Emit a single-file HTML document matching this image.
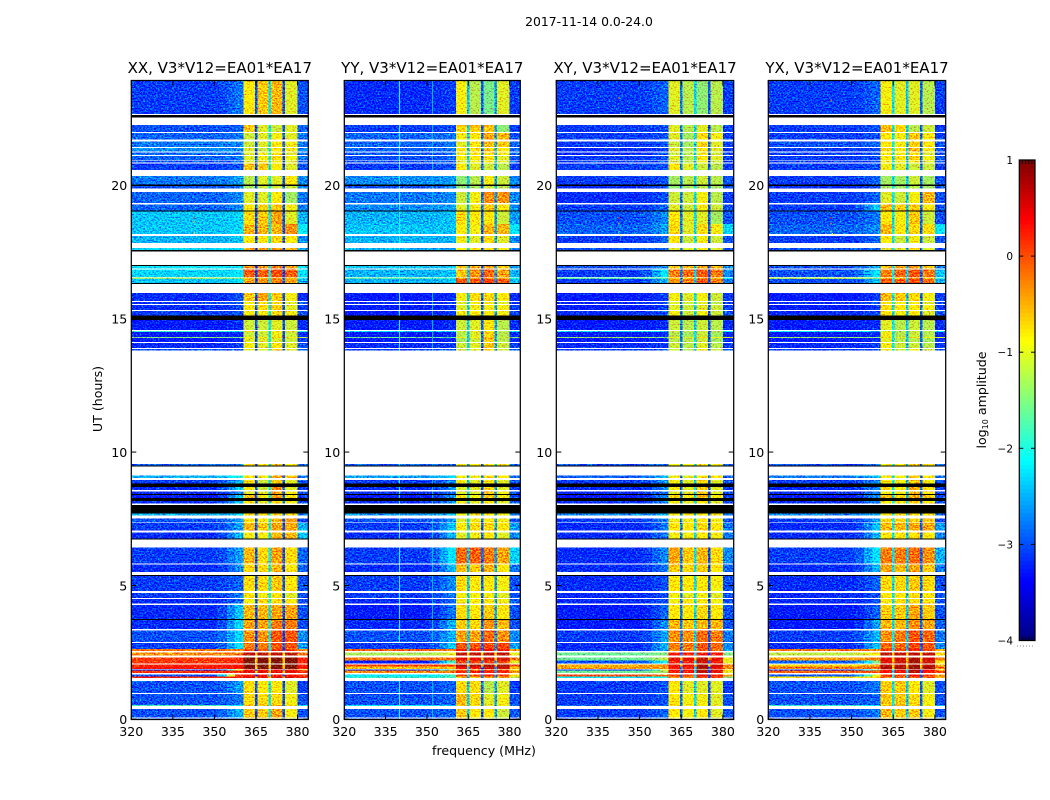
<!DOCTYPE html>
<html>
<head>
<meta charset="utf-8">
<title>2017-11-14 0.0-24.0</title>
<style>
html,body{margin:0;padding:0;background:#fff;}
svg{display:block;}
text{font-family:"DejaVu Sans","Liberation Sans",sans-serif;fill:#000;}
</style>
</head>
<body>
<svg id="fig" xmlns="http://www.w3.org/2000/svg" width="1050" height="800" viewBox="0 0 1050 800">
<defs>
<filter id="speckle" x="0" y="0" width="100%" height="100%" color-interpolation-filters="sRGB">
<feTurbulence type="fractalNoise" baseFrequency="0.55 0.7" numOctaves="2" seed="7" result="t"/>
<feColorMatrix in="t" type="matrix" values="0 0 0 0 0.5 1 0 0 0 0 0 0 0 0 0.5 0 0 0 0 1" result="g"/>
<feComposite in="g" in2="SourceGraphic" operator="arithmetic" k1="0" k2="1.8" k3="1" k4="-0.9" result="m"/>
<feComposite in="m" in2="SourceAlpha" operator="in"/>
</filter>
</defs>
<text x="589" y="26" font-size="12.4" text-anchor="middle">2017-11-14 0.0-24.0</text>
<text x="484" y="755" font-size="12.6" text-anchor="middle">frequency (MHz)</text>
<text x="102" y="399" font-size="12.6" text-anchor="middle" transform="rotate(-90 102 399)">UT (hours)</text>
<text x="986" y="400" font-size="12.6" text-anchor="middle" transform="rotate(-90 986 400)">log<tspan font-size="8" dy="2">10</tspan><tspan dy="-2"> amplitude</tspan></text>
<g id="panels"></g>
<g id="cbar"></g>
</svg>
<script>
var polNames = ['XX', 'YY', 'XY', 'YX'];
var panelTitle = ', V3*V12=EA01*EA17';
var xTicks = [320, 335, 350, 365, 380];
var yTicks = [0, 5, 10, 15, 20];
var cbarTicks = [1, 0, -1, -2, -3, -4];

// Frequency column edges (MHz): low, three ramp steps, sub-band 1, notch, 2, notch, 3, notch, 4, high
var freqEdges = [320, 351, 354.5, 357.5, 360.5, 364.6, 365.5, 369.6, 370.5, 374.6, 375.5, 380, 383.9];

// Flagged (black) time ranges in UT hours
var blackRows = [[22.62,22.53],[20.02,19.96],[19.04,19.01],[17.57,17.51],[17.0,16.97],[16.33,16.29],[15.11,14.94],[9.49,9.46],[8.83,8.70],[8.43,8.39],[8.28,8.16],[8.01,7.70],[6.76,6.72],[5.39,5.36],[3.75,3.71]];

// Scan rows in UT hours (top, bottom)
var scanRows = [[23.90,22.66],[22.25,21.99],[21.95,21.70],[21.63,21.42],[21.39,21.25],[21.22,21.12],[21.09,20.95],[20.92,20.84],[20.81,20.56],[20.34,20.02],[19.96,19.87],[19.74,19.33],[19.27,19.04],[19.01,18.55],[18.55,18.16],[18.09,17.83],[17.64,17.57],[16.97,16.87],[16.84,16.55],[16.53,16.48],[16.48,16.33],[15.96,15.66],[15.62,15.54],[15.51,15.32],[15.28,15.11],[14.94,14.57],[14.53,14.50],[14.50,14.31],[14.31,14.27],[14.27,14.12],[14.08,13.90],[13.86,13.80],[9.55,9.49],[9.13,9.03],[8.95,8.83],[8.70,8.58],[8.53,8.43],[8.39,8.28],[8.16,8.07],[7.70,7.62],[7.51,7.36],[7.34,7.06],[6.98,6.76],[6.42,5.82],[5.79,5.51],[5.36,4.79],[4.72,4.53],[4.49,4.33],[4.28,3.75],[3.71,3.37],[3.32,2.88],[2.85,2.62],[2.62,2.55],[2.49,2.37],[2.31,2.19],[2.19,2.08],[2.04,1.96],[1.96,1.87],[1.86,1.81],[1.81,1.72],[1.66,1.59],[1.59,1.54],[1.43,0.97],[0.94,0.52],[0.52,0.49],[0.37,0.06],[0.02,0.0]];

// log10 amplitude per scan row: low, ramp, band1, band2, band3, band4, high
var ampXX = [
[-3.1,-2.8,-.7,-.5,-.4,-.9,-3],[-3,-2.9,-.5,-.9,-1,-.9,-2.9],[-2.9,-2.8,-1,-.9,-.8,-.9,-2.8],[-2.8,-2.7,-1,-.9,-.7,-.8,-2.8],[-2.7,-2.7,-.9,-1,-.7,-.8,-2.7],[-2.9,-2.8,-.9,-.8,-.7,-.9,-2.8],[-2.9,-2.8,-.9,-.8,-.6,-.8,-2.8],[-3,-2.9,-.9,-.8,-.7,-.9,-2.9],[-3.1,-3,-.5,-.5,-.7,-.9,-3],
[-2.8,-2.6,-1.1,-.9,-.9,-.7,-2.7],[-3,-2.8,-1.2,-1,-1,-1,-2.8],[-2.9,-2.7,-.9,-.9,-.7,-1.2,-2.8],[-2.9,-2.7,-.7,-.6,-.5,-.8,-2.8],[-2.4,-2.3,-.6,-.5,-.3,-.9,-2.5],[-2.4,-2.3,-.4,-.4,-.4,-.2,-2.1],[-2.5,-2.4,-.7,-.7,-.6,-.7,-2.7],[-2.3,-2.3,-.3,-.3,-.2,-.4,-2.5],
[-2.2,-2.2,-.2,-.2,-.1,-.3,-2.2],[-2.3,-2.2,.05,.05,.15,.05,-2.2],[-1.4,-1.6,-.4,-.4,-.3,-.4,-2],[-2.4,-2.2,-.3,-.2,-.1,-.3,-2.5],
[-3.2,-3,-.5,-.3,-.5,-.8,-3.2],[-3.1,-3,-.8,-.7,-.6,-.9,-3],[-3.2,-3,-.7,-.6,-.5,-.9,-3.1],[-3.1,-3,-.8,-.8,-.6,-.8,-3],
[-3.3,-3.2,-1,-1,-.9,-1,-3.2],[-1.9,-2.3,-.8,-.9,-.8,-.9,-2],[-3.3,-3.2,-1,-1,-.8,-1,-3.2],[-1.5,-1.6,-.6,-.7,-.6,-.8,-1.3],[-3.3,-3.2,-.9,-.9,-.9,-1,-3.1],[-3.2,-3.1,-.8,-.9,-.7,-.9,-3],[-3,-2.9,-.9,-.9,-.6,-.9,-3],
[-2.9,-2.8,-.6,-.7,-.5,-.7,-2.8],[-2.5,-2,-.7,-.8,-.3,-.5,-2.8],[-3.1,-2.5,-.6,-1,-.5,-.9,-3],[-3.2,-2.4,-.7,-1,-.2,-.9,-3.1],[-3.2,-2.7,-.9,-.9,-.3,-.8,-3],[-3.3,-2.4,-.4,-.8,-.3,-.7,-3.1],[-3.2,-2.4,-.7,-.9,-.6,-.8,-3],[-2.5,-2.3,-.7,-.6,-.6,-.6,-2.7],
[-3,-2.6,-.7,-.7,-.4,-.3,-3],[-3.1,-2.6,-.4,-.5,-.3,-.3,-2.5],[-3.2,-2.5,-.8,-.8,-.4,-.4,-2.4],[-3.1,-2.6,-.4,-.6,-.3,-.6,-2.9],[-3.2,-2.7,-.6,-.6,-.4,-.7,-2.9],
[-3.1,-2.9,-.6,-.6,-.5,-.7,-3],[-3.1,-2.8,-.7,-.8,-.7,-.9,-3],[-3.2,-2.9,-.8,-.6,-.6,-.7,-3],[-3.2,-2.4,-.4,-.4,-.3,-.3,-3],[-3.2,-2.3,-.3,-.3,-.1,-.1,-3],[-3,-2.3,-.2,-.2,.1,.1,-2.7],[-3.1,-2.2,-.1,-.1,.1,.1,-2.6],[-.2,-.2,.1,.1,.2,.2,-.4],
[-.3,-.2,.7,.7,.7,.7,-.2],[.1,.2,1,1,1,1,.2],[.15,.25,1,1,1,1,.25],[.25,.35,1,1,1,1,.35],[.35,.4,1,1,1,1,.35],[-3.2,-1,.3,.3,.3,.3,-.5],[.2,.2,.5,.5,.5,.5,.2],[-3,.2,.3,.3,.3,.3,.2],[.3,.2,.5,.5,.5,.5,.2],
[-3,-2.6,-.6,-.7,-.7,-.9,-3.1],[-3,-2.8,-.6,-.6,-.6,-.8,-3],[-1.8,-2.2,-.4,-.4,-.3,-.5,-2.2],[-3,-2.5,-.5,-.5,-.3,-.8,-3],[-3,-2.7,-.7,-.7,-.6,-.9,-3]];

var ampYY = [
[-3.2,-3.1,-.8,-1.1,-1.4,-.9,-3.1],[-3.1,-3,-.6,-.5,-.5,-1.3,-3.1],[-2.9,-2.8,-.8,-.7,-.3,-.4,-3],[-2.9,-2.8,-.9,-.7,-.4,-.5,-2.9],[-2.9,-2.8,-.7,-.7,-.5,-.7,-2.9],[-3,-2.9,-.8,-.7,-.6,-.8,-2.9],[-3,-2.9,-.8,-.7,-.7,-.9,-3],[-3,-2.9,-.9,-.8,-.7,-.9,-3],[-3.1,-3,-.7,-.9,-1,-1.1,-3.1],
[-2.7,-2.6,-1.3,-1.1,-.8,-1,-2.7],[-3,-2.8,-1.3,-1.2,-1,-1.1,-2.9],[-2.8,-2.7,-1,-.8,-.2,-.2,-2.7],[-2.7,-2.6,-.9,-.8,-.5,-.7,-2.7],[-2.5,-2.4,-.6,-.7,-.7,-1,-2.6],[-2.4,-2.4,-.7,-.8,-.4,-.4,-2.2],[-2.5,-2.5,-.8,-.9,-.6,-.9,-2.7],[-2.5,-2.5,-.7,-.7,-.6,-.8,-2.8],
[-2.4,-2.4,-.5,-.4,-.2,-.5,-2.6],[-2.5,-2.4,-.5,-.2,0,-.3,-2.5],[-1.7,-1.9,-.3,-.2,-.1,-.3,-2],[-2.5,-2.4,.1,.1,.2,.1,-2.4],
[-3.3,-3.2,-.8,-.6,-.6,-.7,-3.2],[-3.2,-3.1,-.9,-.8,-.8,-.9,-3.1],[-3.3,-3.2,-.9,-.8,-.8,-.8,-3.1],[-3.3,-3.1,-.8,-.7,-.7,-.8,-3.1],
[-3.3,-3.2,-1,-.9,-.7,-1.1,-3.2],[-2.2,-2.4,-1,-.9,-.7,-1.1,-2.3],[-3.3,-3.2,-1.1,-.9,-.6,-1.1,-3.2],[-1.6,-1.7,-.8,-.7,-.4,-1,-1.5],[-3.3,-3.2,-1.2,-1,-.5,-1.1,-3.2],[-3.2,-3.1,-1,-.9,-.5,-1,-3.1],[-3.1,-3,-1,-.9,-.6,-1,-3],
[-2.9,-2.8,-.8,-.7,-.7,-.8,-2.9],[-2.6,-2.3,-.8,-.8,-.6,-.7,-2.8],[-3.1,-2.7,-.8,-.9,-.7,-.9,-3],[-3.2,-2.7,-.9,-.9,-.6,-.9,-3.1],[-3.2,-2.8,-.9,-.9,-.5,-.8,-3],[-3.3,-2.7,-.7,-.8,-.5,-.8,-3.1],[-3.2,-2.6,-.8,-.9,-.7,-.9,-3],[-2.6,-2.4,-.8,-.7,-.7,-.8,-2.8],
[-3,-2.7,-.9,-.8,-.7,-.8,-3],[-3.1,-2.4,-.7,-.6,-.6,-.7,-2.6],[-3.2,-2.5,-.9,-.8,-.7,-.9,-2.7],[-3.1,-2.2,0,.05,-.1,-.3,-2.3],[-3.2,-2.5,-.4,-.5,-.4,-.7,-2.8],
[-3.1,-2.7,-.6,-.7,-.7,-.8,-3],[-3.1,-2.8,-.8,-.8,-.8,-.9,-3],[-3.2,-2.9,-.8,-.7,-.7,-.8,-3],[-3.3,-2.8,-.6,-.7,-.5,-.7,-3],[-3.2,-2.5,-.5,-.6,-.2,-.4,-3],[-3,-2.5,-.3,-.3,0,-.2,-2.7],[-3.1,-2.4,.1,.1,.2,.2,-2.6],[-.1,-.2,.4,.3,.4,.3,-.4],
[-1.3,-1,.7,.7,.7,.7,-1],[-.2,-.2,.5,.5,.6,.6,-.2],[-3.3,-1.8,.2,.2,.2,.2,-1],[.1,.1,.8,.8,.8,.8,.1],[-.6,-.5,.4,.4,.6,.6,-.6],[-3.3,-1.5,-.2,-.2,.1,.1,-.8],[-.3,-.2,.3,.3,.3,.3,-.3],[-2.2,-1.8,.2,.1,.3,.2,-.8],[-1.9,-1.8,-.4,-.4,-.3,-.3,-1.2],
[-3,-2.9,-.6,-.6,-1.1,-.9,-3.1],[-3,-2.9,-.4,-.6,-.9,-.8,-3],[-2.2,-2.5,-.5,-.6,-.9,-.8,-2.8],[-3,-2.9,-.5,-.7,-.7,-1,-3],[-3,-2.8,-.7,-.8,-.8,-1,-3]];

var ampXY = [
[-3.1,-2.9,-.9,-1.1,-1.3,-1.1,-3.1],[-3.1,-3,-.9,-1.1,-.9,-1.1,-3.1],[-3.1,-3,-.9,-1.2,-.6,-.8,-3.1],[-3.1,-3,-1,-1.2,-.6,-.9,-3.1],[-3.2,-3.1,-.9,-1.1,-.7,-.9,-3.1],[-3.2,-3,-1,-1.1,-.8,-1,-3.1],[-3.1,-3,-.9,-1.1,-.7,-.9,-3.1],[-3.1,-3,-1,-1.1,-.8,-1,-3],[-3.1,-3,-.7,-.9,-1,-1.1,-3.1],
[-3.1,-3,-1.2,-1.1,-1,-1.1,-3],[-3.2,-3,-1.3,-1.2,-1.1,-1.2,-3],[-3.2,-3,-1,-1,-.8,-1.1,-3.1],[-3.1,-2.9,-.9,-1,-.7,-1,-3],[-3,-2.7,-.7,-.9,-.9,-1.2,-3],[-2.9,-2.6,-.6,-.9,-.6,-.8,-2.3],[-3.1,-2.9,-.7,-1,-.8,-1,-3],[-3,-2.9,-.9,-.9,-.7,-.9,-3],
[-3,-2.7,-.5,-.4,-.3,-.4,-2.7],[-3.1,-2.2,-.1,0,.1,-.1,-2.7],[-1.7,-1.8,-.4,-.4,-.2,-.4,-2.2],[-3.1,-2.5,-.2,-.1,.1,-.1,-2.8],
[-3.3,-3.1,-.8,-.9,-.8,-1,-3.1],[-3.2,-3,-.9,-1,-.9,-1.1,-3.1],[-3.3,-3.1,-.9,-1,-.9,-1,-3.1],[-3.2,-3,-.8,-1,-.8,-1,-3],
[-3.3,-3.2,-1,-1.1,-1,-1.1,-3.2],[-2.3,-2.5,-1,-1.1,-1,-1.1,-2.4],[-3.3,-3.2,-1.1,-1.2,-1,-1.2,-3.2],[-1.4,-1.5,-.8,-.9,-.6,-.8,-1.1],[-3.3,-3.2,-1.1,-1.1,-1,-1.2,-3.2],[-3.2,-3.1,-1,-1.1,-.9,-1.1,-3.1],[-3.1,-3,-1,-1.1,-.8,-1,-3],
[-3,-2.9,-.8,-.8,-.7,-.8,-2.9],[-2.9,-2.5,-.8,-.9,-.6,-.7,-2.9],[-3.1,-2.7,-.8,-.9,-.6,-.9,-3],[-3.2,-2.7,-.8,-.9,-.5,-.9,-3.1],[-3.2,-2.8,-.9,-.9,-.5,-.9,-3],[-3.3,-2.7,-.6,-.8,-.4,-.7,-3.1],[-3.2,-2.7,-.8,-.9,-.7,-.9,-3],[-2.7,-2.5,-.8,-.7,-.7,-.7,-2.8],
[-3.1,-2.8,-.8,-.8,-.7,-.8,-3],[-3.2,-2.8,-.7,-.7,-.6,-.7,-2.8],[-3.2,-2.8,-.8,-.8,-.7,-.8,-2.8],[-3.2,-2.7,-.3,-.5,-.4,-.6,-2.7],[-3.2,-2.8,-.5,-.6,-.5,-.7,-2.9],
[-3.2,-3,-.7,-.7,-.7,-.8,-3],[-3.2,-3,-.8,-.9,-.8,-.9,-3],[-3.2,-3,-.8,-.7,-.7,-.8,-3],[-3.3,-2.9,-.7,-.7,-.6,-.7,-3],[-3.3,-2.7,-.4,-.5,-.4,-.4,-3],[-3.1,-2.6,-.2,-.2,0,-.1,-2.8],[-3.2,-2.5,-.1,-.1,.1,0,-2.7],[-3.1,-2.6,-.2,-.2,.1,-.1,-2.6],
[-1.6,-1.5,.3,.3,.4,.3,-1.5],[-1.6,-1.2,.5,.5,.7,.5,-1],[-3,-2,.3,.3,.6,.4,-1],[-.5,-.3,.5,.5,.8,.6,-.2],[-.4,-.3,.4,.4,.8,.5,-.3],[-3.3,-1,.3,.3,.7,.5,-.5],[-1.6,-1.3,.3,.3,.7,.5,-1],[0,-.2,.2,.2,.5,.3,-.5],[-2.2,-2,-.2,-.2,.1,.1,-1.5],
[-3.1,-3,-.7,-.9,-.9,-.9,-3.1],[-3.1,-3,-.7,-.8,-.8,-.9,-3],[-2.9,-2.8,-.6,-.7,-.7,-.8,-2.9],[-3.1,-2.9,-.7,-.8,-.7,-.9,-3],[-3,-2.9,-.8,-.9,-.8,-1,-3]];

var ampYX = [
[-3.1,-2.9,-.8,-.9,-.9,-1.1,-3.1],[-3.1,-3,-.4,-.6,-1.1,-1,-3.1],[-3.1,-3,-.7,-.8,-.5,-.7,-3.1],[-3,-2.9,-.7,-.8,-.5,-.7,-3],[-3.1,-3,-.6,-.7,-.4,-.8,-3],[-3.1,-3,-.7,-.8,-.6,-.9,-3],[-3.1,-3,-.7,-.7,-.5,-.8,-3],[-3.1,-3,-.8,-.8,-.7,-.9,-3],[-3.1,-3,-.8,-.9,-1,-1,-3.1],
[-3.1,-2.9,-1.2,-1.2,-1,-1.2,-3],[-3.2,-3,-1.2,-1.2,-1.1,-1.2,-3],[-3.1,-2.9,-.9,-1,-.8,-.4,-3],[-3.1,-2.4,-.4,-.5,-.5,-.7,-3],[-3,-2.8,-.7,-.8,-.5,-1,-3],[-2.9,-2.7,-.4,-.7,-.6,-.6,-2.2],[-3.1,-2.9,-.7,-1,-.8,-1,-3],[-3,-2.9,-.9,-.9,-.7,-.9,-3],
[-3,-2.5,-.4,-.3,-.2,-.5,-2.7],[-3,-2.2,-.1,0,.1,-.1,-2.4],[-1.3,-1.6,-.4,-.4,-.2,-.4,-1.9],[-3,-2.4,.1,.1,.2,0,-2.5],
[-3.3,-3.1,-.4,-.5,-.6,-.8,-3.1],[-3.2,-3,-.7,-.8,-.8,-.9,-3.1],[-3.3,-3.1,-.6,-.7,-.7,-.8,-3.1],[-3.2,-3,-.7,-.8,-.7,-.9,-3],
[-3.3,-3.2,-.9,-1.1,-1,-1.1,-3.2],[-2.1,-2.4,-.9,-1.1,-1,-1.1,-2.3],[-3.3,-3.2,-.8,-1.1,-1,-1.1,-3.2],[-1.4,-1.5,-.7,-.9,-.8,-.8,-1.1],[-3.3,-3.2,-.9,-1.1,-1.1,-1.2,-3.2],[-3.2,-3.1,-.8,-1,-1,-1.1,-3.1],[-3.1,-3,-.8,-1,-.8,-1,-3],
[-3,-2.9,-.8,-.7,-.6,-.7,-2.9],[-2.8,-2.4,-.8,-.8,-.5,-.7,-2.8],[-3.1,-2.7,-.7,-.8,-.5,-.8,-3],[-3.2,-2.7,-.6,-.7,-.3,-.6,-3.1],[-3.2,-2.8,-.8,-.8,-.4,-.7,-3],[-3.3,-2.6,-.4,-.6,-.3,-.5,-3.1],[-3.2,-2.7,-.7,-.8,-.6,-.8,-3],[-2.7,-2.5,-.7,-.6,-.6,-.6,-2.8],
[-3.1,-2.6,-.6,-.6,-.5,-.5,-3],[-3.2,-2.4,-.4,-.4,-.3,-.3,-2.6],[-3.2,-2.5,-.7,-.7,-.6,-.7,-2.7],[-3.1,-2.2,-.1,-.1,0,-.2,-2.5],[-3.2,-2.5,-.3,-.4,-.3,-.5,-2.8],
[-3.2,-2.9,-.6,-.6,-.5,-.6,-3],[-3.2,-3,-.7,-.7,-.6,-.7,-3],[-3.2,-3,-.7,-.6,-.6,-.7,-3],[-3.3,-2.9,-.5,-.5,-.3,-.5,-3],[-3.3,-2.6,-.4,-.4,-.2,-.3,-2.9],[-3.1,-2.5,-.2,-.1,.1,0,-2.8],[-3.2,-2.4,0,0,.2,.1,-2.7],[-.2,-.3,.2,.2,.3,.2,-.5],
[-1.2,-.9,.7,.7,.7,.7,-.8],[-.4,-.2,.5,.6,.8,.6,-.2],[-2.9,-1.5,.5,.6,.8,.6,-.8],[-.7,-.4,.7,.7,.8,.7,-.5],[-.2,-.1,.8,.8,.9,.8,-.2],[-3.2,-1.5,.4,.5,.7,.4,-.6],[-.1,0,.4,.4,.7,.4,0],[-3,-1,.2,.2,.4,.2,-.5],[-.9,-.8,0,0,.1,0,-.4],
[-3,-2.8,-.5,-.5,-.7,-.9,-3],[-3,-2.9,-.5,-.5,-.6,-.8,-3],[-1.9,-2.3,-.4,-.4,-.5,-.7,-2.6],[-3,-2.8,-.4,-.5,-.5,-.8,-3],[-3,-2.8,-.6,-.7,-.7,-.9,-3]];

// Notch level per polarisation at 365, 370, 375 MHz, and the level they show when the sub-bands saturate
var notchXX = [-3, -2.2, -3];
var notchYY = [-2.4, -2.9, -2.6];
var notchXY = [-2.8, -2.3, -3];
var notchYX = [-2.2, -2.4, -2.9];
var notchSaturated = [-.6];

// Narrow interference channels: polarisation index, MHz, log amplitude
var rfiChannels = [[1, 339.9, -2.1], [1, 351.8, -2.5]];
// Isolated bright samples: polarisation index, MHz, UT, log amplitude
var rfiSpots = [[0,342.4,18.8,.1],[0,342.4,18.65,-.5],[0,342.4,18.25,-.9],[2,342.4,18.8,.2],[2,342.4,18.6,-.4],[2,342.4,18.3,-1.6],[2,343,18.15,-.8],[2,342.4,23.3,-.2],[3,342.4,18.8,.2],[3,342.4,18.6,-.3],[3,342.4,18.3,-1.2],[3,343,18.2,-.9],[3,342.4,23.2,-.1]];

var cbarDomain = [-4, 1];
var utDomain = [0, 23.9];
var freqDomain = [320, 383.9];

var panelLefts = [131.3, 344.3, 556.3, 768.3];
var panelRights = [308.3, 520.3, 733.7, 945.7];
var plotBottom = 719, plotTop = 81;
var SVGNS = 'http://www.w3.org/2000/svg';

function mk(parent, tag, attrs) {
  var e = document.createElementNS(SVGNS, tag);
  for (var k in attrs) e.setAttribute(k, attrs[k]);
  parent.appendChild(e);
  return e;
}
function clamp01(x) { return Math.max(0, Math.min(1, x)); }
function jet(v) {
  var t = clamp01((v - cbarDomain[0]) / (cbarDomain[1] - cbarDomain[0]));
  var r = clamp01(Math.min(4 * t - 1.5, -4 * t + 4.5));
  var g = clamp01(Math.min(4 * t - 0.5, -4 * t + 3.5));
  var b = clamp01(Math.min(4 * t + 0.5, -4 * t + 2.5));
  return 'rgb(' + Math.round(r * 255) + ',' + Math.round(g * 255) + ',' + Math.round(b * 255) + ')';
}
function band(v) { return v < 0.3 ? v - 0.13 : v; }
function xScale(p, f) {
  return panelLefts[p] + (f - freqDomain[0]) / (freqDomain[1] - freqDomain[0]) * (panelRights[p] - panelLefts[p]);
}
function yScale(t) {
  return plotBottom - (t - utDomain[0]) / (utDomain[1] - utDomain[0]) * (plotBottom - plotTop);
}

var ampByPol = [ampXX, ampYY, ampXY, ampYX];
var notchByPol = [notchXX, notchYY, notchXY, notchYX];
var panelsG = document.getElementById('panels');

for (var p = 0; p < 4; p++) {
  var panel = mk(panelsG, 'g', {});
  
  

  var cells = mk(panel, 'g', {filter: 'url(#speckle)', 'shape-rendering': 'crispEdges'});
  
  

  var levels = ampByPol[p];
  for (var r = 0; r < scanRows.length; r++) {
    var y0 = yScale(scanRows[r][0]), y1 = yScale(scanRows[r][1]);
    var row = levels[r];
    var hot = row[2] >= 0.5;
    var n = notchByPol[p];
    var columnValues = [
      row[0], 0.8 * row[0] + 0.2 * row[1], 0.4 * row[0] + 0.6 * row[1], row[1],
      band(row[2]), hot ? notchSaturated[0] : n[0],
      band(row[3]), hot ? notchSaturated[0] : n[1],
      band(row[4]), hot ? notchSaturated[0] : n[2],
      band(row[5]), row[6]
    ];
    for (var c = 0; c < columnValues.length; c++) {
      var x0 = xScale(p, freqEdges[c]), x1 = xScale(p, freqEdges[c + 1]);
      var cell = mk(cells, 'rect', {x: x0.toFixed(2), y: y0.toFixed(2), width: (x1 - x0).toFixed(2), height: Math.max(1, y1 - y0).toFixed(2), fill: jet(columnValues[c])});
      
      
    }
  }

  var overlay = mk(panel, 'g', {'shape-rendering': 'crispEdges'});
  
  
  rfiChannels.forEach(function (ch) {
    if (ch[0] !== p) return;
    scanRows.forEach(function (sr) {
      if (sr[0] < 2.9 && sr[0] > 1.5) return;
      var line = mk(overlay, 'rect', {x: xScale(p, ch[1]).toFixed(2), y: yScale(sr[0]).toFixed(2), width: 1, height: Math.max(1, yScale(sr[1]) - yScale(sr[0])).toFixed(2), fill: jet(ch[2])});
      
      
    });
  });
  rfiSpots.forEach(function (s) {
    if (s[0] !== p) return;
    var spot = mk(overlay, 'rect', {x: xScale(p, s[1]).toFixed(2), y: yScale(s[2]).toFixed(2), width: 1, height: 2, fill: jet(s[3])});
    
    
  });

  var flagged = mk(panel, 'g', {'shape-rendering': 'crispEdges'});
  
  
  blackRows.forEach(function (b) {
    var by0 = yScale(b[0]), by1 = yScale(b[1]);
    var bar = mk(flagged, 'rect', {x: panelLefts[p], y: by0.toFixed(2), width: (panelRights[p] - panelLefts[p]).toFixed(2), height: Math.max(1, by1 - by0).toFixed(2), fill: '#000'});
    
    
  });

  var frame = mk(panel, 'rect', {x: panelLefts[p], y: 80.5, width: (panelRights[p] - panelLefts[p]).toFixed(2), height: 639, fill: 'none', stroke: '#000', 'stroke-width': 1.25});
  
  

  xTicks.forEach(function (f) {
    var x = xScale(p, f);
    mk(panel, 'line', {x1: x, x2: x, y1: 719.5, y2: 714.5, stroke: '#000', 'stroke-width': 1});
    mk(panel, 'line', {x1: x, x2: x, y1: 80.5, y2: 85.5, stroke: '#000', 'stroke-width': 1});
    var lab = mk(panel, 'text', {x: x, y: 736, 'font-size': 12.6, 'text-anchor': 'middle'});
    
    
    lab.textContent = f;
  });
  yTicks.forEach(function (t) {
    var y = yScale(t);
    mk(panel, 'line', {x1: panelLefts[p], x2: panelLefts[p] + 5, y1: y, y2: y, stroke: '#000', 'stroke-width': 1});
    mk(panel, 'line', {x1: panelRights[p], x2: panelRights[p] - 5, y1: y, y2: y, stroke: '#000', 'stroke-width': 1});
    var lab = mk(panel, 'text', {x: panelLefts[p] - 4, y: y + 5, 'font-size': 12.6, 'text-anchor': 'end'});
    
    
    lab.textContent = t;
  });

  var title = mk(panel, 'text', {x: (panelLefts[p] + panelRights[p]) / 2, y: 73, 'font-size': 15, 'text-anchor': 'middle'});
  
  
  title.textContent = polNames[p] + panelTitle;
}

// Colourbar
var cb = document.getElementById('cbar');
var cbX0 = 1019.3, cbX1 = 1035, cbY0 = 160, cbY1 = 640.5, cbSteps = 120;
function cbScale(v) { return cbY1 - (v - cbarDomain[0]) / (cbarDomain[1] - cbarDomain[0]) * (cbY1 - cbY0); }
var cbG = mk(cb, 'g', {'shape-rendering': 'crispEdges'});
for (var i = 0; i < cbSteps; i++) {
  var v = cbarDomain[0] + (i + 0.5) / cbSteps * (cbarDomain[1] - cbarDomain[0]);
  var v1 = cbarDomain[0] + (i + 1) / cbSteps * (cbarDomain[1] - cbarDomain[0]);
  var sw = mk(cbG, 'rect', {x: cbX0, y: cbScale(v1).toFixed(2), width: cbX1 - cbX0, height: ((cbY1 - cbY0) / cbSteps + 0.6).toFixed(2), fill: jet(v)});
  
  
}
var cbFrame = mk(cb, 'rect', {x: cbX0, y: cbY0, width: cbX1 - cbX0, height: cbY1 - cbY0, fill: 'none', stroke: '#000', 'stroke-width': 1.25});


cbarTicks.forEach(function (v) {
  var y = cbScale(v);
  mk(cb, 'line', {x1: cbX0, x2: cbX0 + 4, y1: y, y2: y, stroke: '#000', 'stroke-width': 1});
  mk(cb, 'line', {x1: cbX1, x2: cbX1 - 4, y1: y, y2: y, stroke: '#000', 'stroke-width': 1});
  var lab = mk(cb, 'text', {x: 1013, y: y + 4, 'font-size': 10.5, 'text-anchor': 'end'});
  
  
  lab.textContent = v < 0 ? '\u2212' + Math.abs(v) : String(v);
});
[0.2, 0.4, 0.6, 0.8].forEach(function (q) {
  var x = cbX0 + q * (cbX1 - cbX0);
  mk(cb, 'line', {x1: x, x2: x, y1: cbY0, y2: cbY0 + 4, stroke: '#000', 'stroke-width': 1});
  mk(cb, 'line', {x1: x, x2: x, y1: cbY1, y2: cbY1 - 4, stroke: '#000', 'stroke-width': 1});
});
mk(cb, 'line', {x1: 1017, x2: 1035, y1: 646, y2: 646, stroke: '#888', 'stroke-width': 1, 'stroke-dasharray': '1 2'});
</script>
</body>
</html>
